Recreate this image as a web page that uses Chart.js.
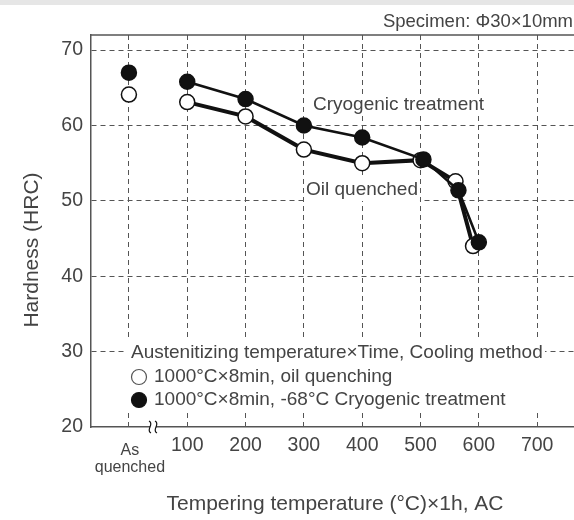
<!DOCTYPE html>
<html>
<head>
<meta charset="utf-8">
<script src="https://cdn.jsdelivr.net/npm/chart.js@4.4.1/dist/chart.umd.min.js"></script>
<style>
  html, body { margin: 0; padding: 0; background: #fff; overflow: hidden; }
  #wrap { position: relative; width: 600px; height: 520px; }
</style>
</head>
<body>
<div id="wrap"><canvas id="hardnessChart" width="600" height="520"></canvas></div>
<script>
const tempTicks = [0, 100, 200, 300, 400, 500, 600, 700];
const hardnessTicks = [20, 30, 40, 50, 60, 70];

const oilAsQuenched = 64.1;
const cryoAsQuenched = 67.0;
const oilTemps = [100, 200, 300, 400, 500, 560, 590];
const oilHardness = [63.1, 61.2, 56.8, 55.0, 55.4, 52.6, 44.0];
const cryoTemps = [100, 200, 300, 400, 505, 565, 600];
const cryoHardness = [65.8, 63.5, 60.0, 58.4, 55.5, 51.4, 44.5];

const legendTitle = 'Austenitizing temperature×Time, Cooling method';
const legendLabels = ['1000°C×8min, oil quenching', '1000°C×8min, -68°C Cryogenic treatment'];
const curveLabels = ['Cryogenic treatment', 'Oil quenched'];
const xTitle = 'Tempering temperature (°C)×1h, AC';
const yTitle = 'Hardness (HRC)';
const noteText = 'Specimen: Φ30×10mm';
const asQuenchedLabel = ['As', 'quenched'];

const FONT = "'Liberation Sans', Arial, Helvetica, sans-serif";
const TEXT = '#444';
const INK = '#111';

const pts = (xs, ys) => xs.map((x, i) => ({ x, y: ys[i] }));

const decorations = {
  id: 'decorations',
  beforeDatasetsDraw(chart) {
    const { ctx } = chart;
    const yS = chart.scales.y;
    ctx.save();
    ctx.font = `19px ${FONT}`;
    ctx.textBaseline = 'middle';

    // curve labels on white patches
    const labelPos = [[313, 105], [306, 190]];
    curveLabels.forEach((t, i) => {
      const [x, y] = labelPos[i];
      const w = ctx.measureText(t).width;
      ctx.fillStyle = '#fff';
      ctx.fillRect(x - 2, y - 11, w + 4, 22);
      ctx.fillStyle = TEXT;
      ctx.fillText(t, x, y);
    });

    // legend box
    const y30 = yS.getPixelForValue(30);
    ctx.fillStyle = '#fff';
    ctx.fillRect(127, 340, 418, 72);
    ctx.fillStyle = TEXT;
    ctx.fillText(legendTitle, 131, y30 + 1);
    const rowY = [377, 400];
    legendLabels.forEach((t, i) => {
      ctx.beginPath();
      ctx.arc(139, rowY[i], 7.5, 0, Math.PI * 2);
      ctx.fillStyle = i === 0 ? '#fff' : INK;
      ctx.fill();
      ctx.lineWidth = 1.2;
      ctx.strokeStyle = i === 0 ? '#555' : INK;
      ctx.stroke();
      ctx.fillStyle = TEXT;
      ctx.fillText(t, 154, rowY[i]);
    });
    ctx.restore();
  },
  afterDraw(chart) {
    const { ctx, chartArea } = chart;
    const xS = chart.scales.x;
    ctx.save();

    // top band
    ctx.fillStyle = '#e6e6e6';
    ctx.fillRect(0, 0, 600, 5);

    // top frame line
    ctx.strokeStyle = '#555';
    ctx.lineWidth = 1.5;
    ctx.beginPath();
    ctx.moveTo(chartArea.left, chartArea.top);
    ctx.lineTo(chartArea.right, chartArea.top);
    ctx.stroke();

    // axis break mark
    const bx = 153, by = chartArea.bottom;
    ctx.fillStyle = '#fff';
    ctx.fillRect(bx - 3, by - 1, 6, 2);
    ctx.strokeStyle = INK;
    ctx.lineWidth = 1.2;
    [-3, 3].forEach(dx => {
      const x = bx + dx;
      ctx.beginPath();
      ctx.moveTo(x - 1, by - 6);
      ctx.bezierCurveTo(x + 5, by - 3, x - 5, by + 3, x + 1, by + 6);
      ctx.stroke();
    });

    // "As quenched" tick label
    ctx.fillStyle = TEXT;
    ctx.font = `16px ${FONT}`;
    ctx.textAlign = 'center';
    ctx.textBaseline = 'middle';
    const x0 = xS.getPixelForValue(0);
    ctx.fillText(asQuenchedLabel[0], x0 + 1, 451);
    ctx.fillText(asQuenchedLabel[1], x0 + 1, 468);

    // axis titles
    ctx.font = `21px ${FONT}`;
    ctx.fillText(xTitle, 335, 504);
    ctx.save();
    ctx.translate(32, 250);
    ctx.rotate(-Math.PI / 2);
    ctx.fillText(yTitle, 0, 0);
    ctx.restore();

    // specimen note
    ctx.font = `18.5px ${FONT}`;
    ctx.textAlign = 'right';
    ctx.fillText(noteText, 573, 22);
    ctx.restore();
  }
};

const pointStyle = (fill) => ({
  borderColor: INK,
  pointRadius: 7.5,
  pointHoverRadius: 7.5,
  pointBackgroundColor: fill,
  pointBorderColor: INK,
  pointBorderWidth: 1.5,
});

new Chart(document.getElementById('hardnessChart'), {
  type: 'scatter',
  data: {
    datasets: [
      { label: legendLabels[1], data: pts(cryoTemps, cryoHardness), showLine: true, borderWidth: 2.6, order: 1, ...pointStyle(INK) },
      { label: legendLabels[1], data: [{ x: 0, y: cryoAsQuenched }], showLine: false, order: 1, ...pointStyle(INK) },
      { label: legendLabels[0], data: pts(oilTemps, oilHardness), showLine: true, borderWidth: 4, order: 2, ...pointStyle('#fff') },
      { label: legendLabels[0], data: [{ x: 0, y: oilAsQuenched }], showLine: false, order: 2, ...pointStyle('#fff') },
    ],
  },
  options: {
    responsive: false,
    animation: false,
    devicePixelRatio: 1,
    layout: { padding: { top: 35, right: 15, left: 0, bottom: 0 } },
    plugins: { legend: { display: false }, tooltip: { enabled: false } },
    scales: {
      x: {
        type: 'linear',
        min: -65,
        max: 782,
        afterBuildTicks: (s) => { s.ticks = tempTicks.map(v => ({ value: v })); },
        afterFit: (s) => { s.height = 93; },
        ticks: {
          padding: 7,
          color: TEXT,
          font: { family: FONT, size: 19.5 },
          callback: (v) => (v === 0 ? '' : v),
        },
        grid: { color: '#555', lineWidth: 1, drawTicks: false },
        border: { color: '#555', width: 1.5, dash: [5, 4] },
      },
      y: {
        min: 20,
        max: 72,
        afterBuildTicks: (s) => { s.ticks = hardnessTicks.map(v => ({ value: v })); },
        afterFit: (s) => { s.width = 91; },
        ticks: {
          padding: 8,
          color: TEXT,
          font: { family: FONT, size: 19.5 },
        },
        grid: {
          color: (c) => (c.tick && c.tick.value === 20 ? 'rgba(0,0,0,0)' : '#555'),
          lineWidth: 1,
          drawTicks: false,
        },
        border: { color: '#555', width: 1.5, dash: [5, 4] },
      },
    },
  },
  plugins: [decorations],
});
</script>
</body>
</html>
